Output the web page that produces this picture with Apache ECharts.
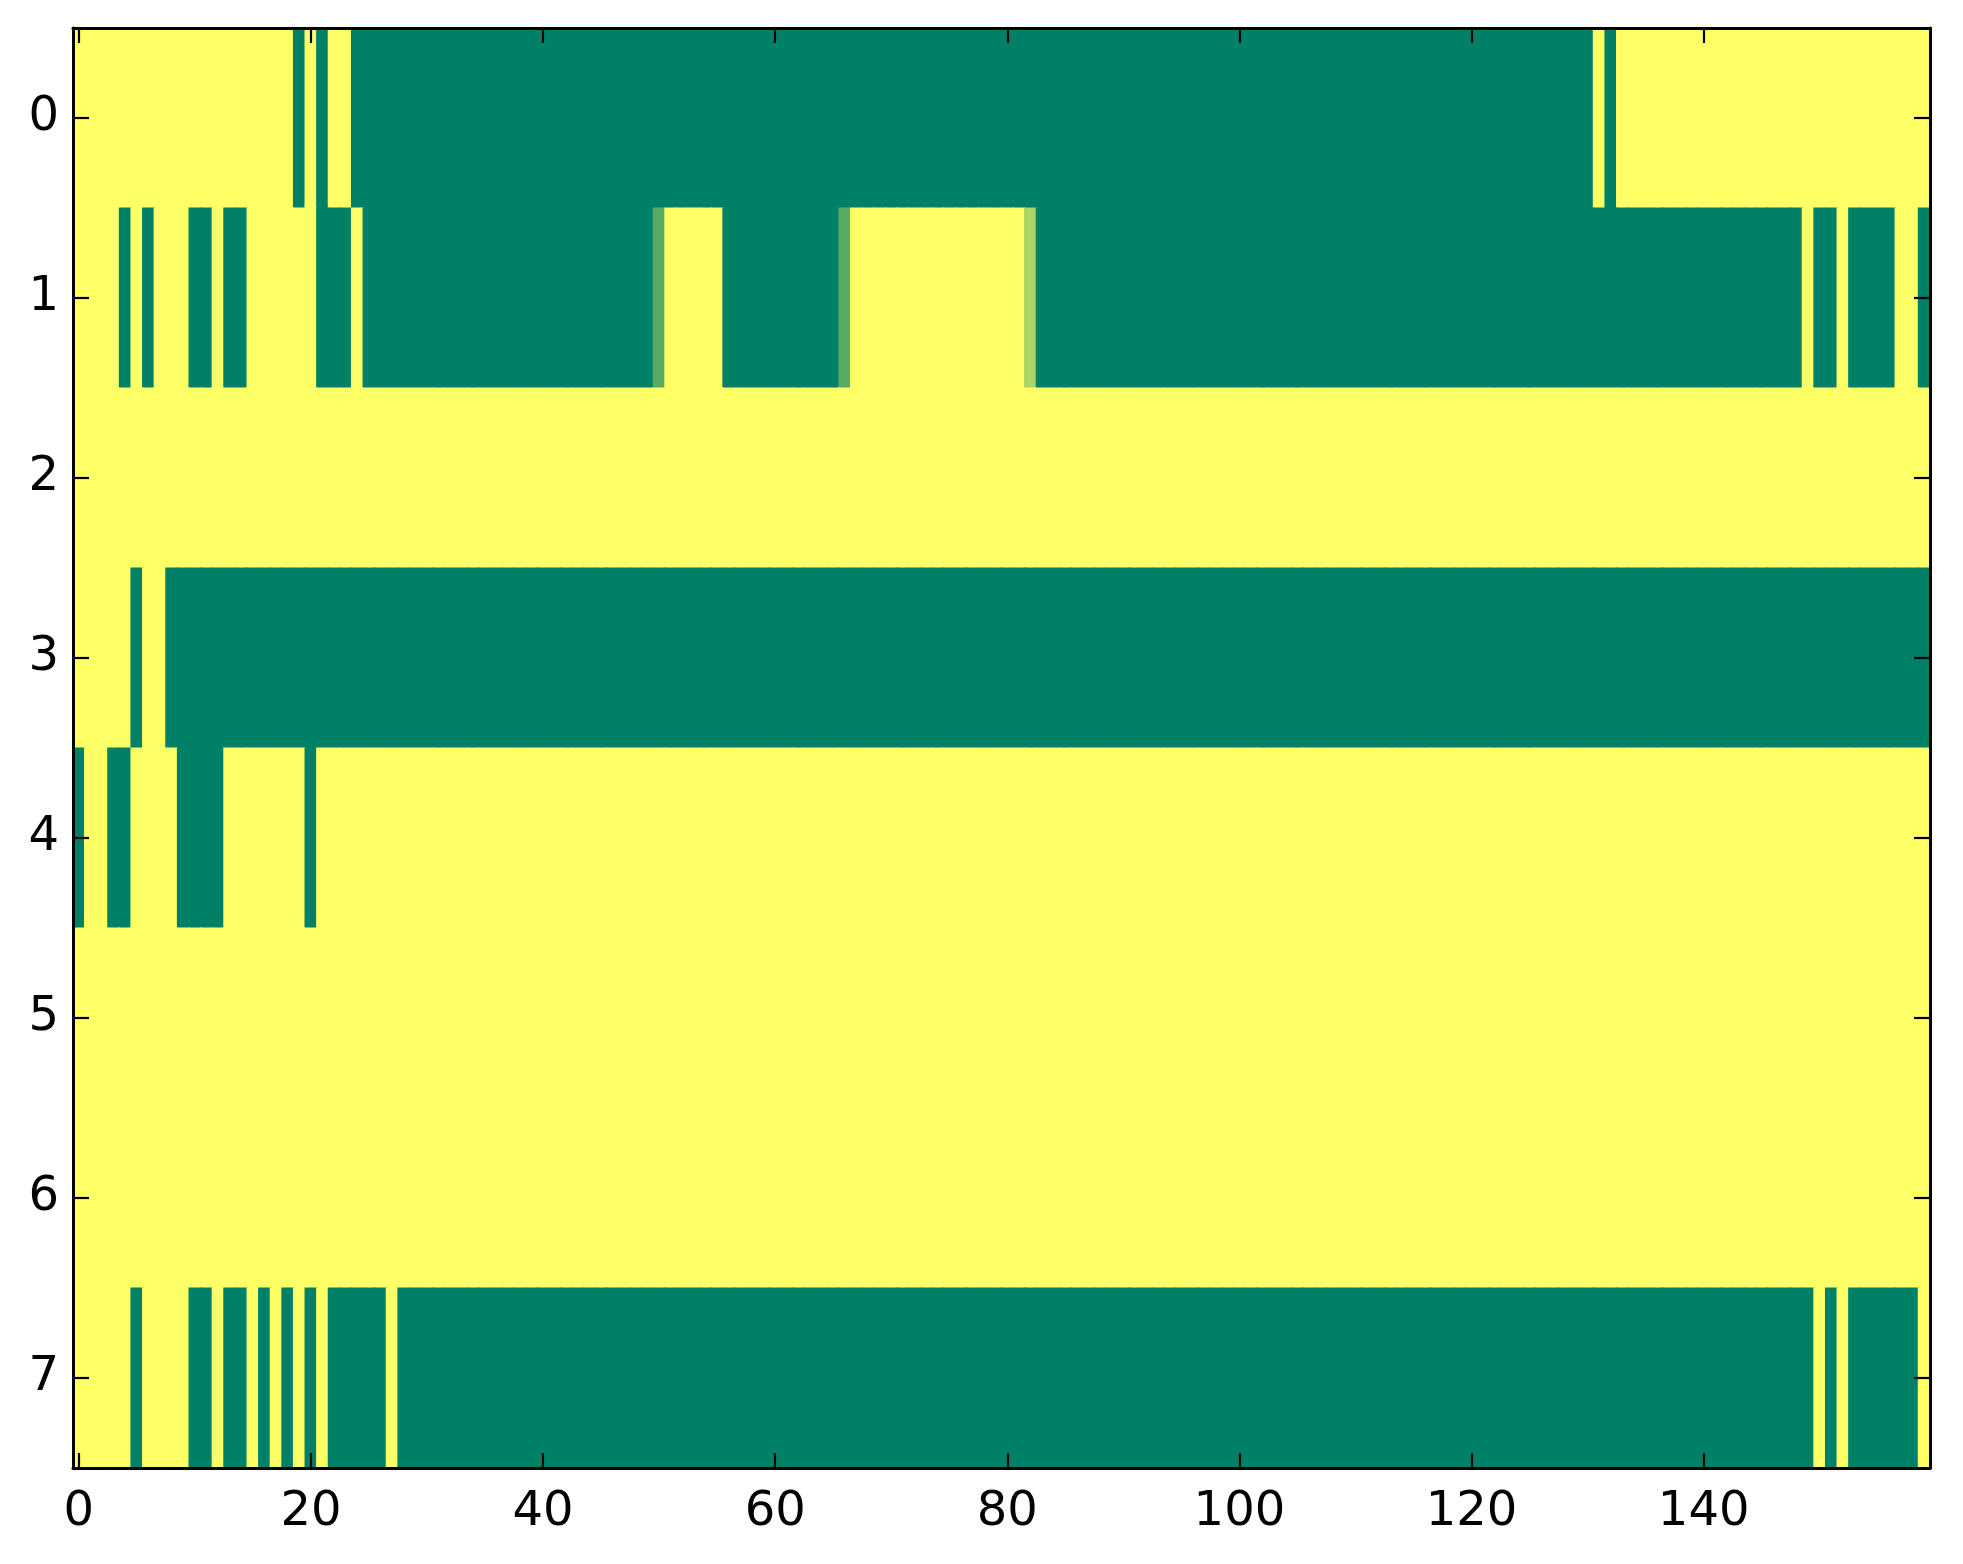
<!DOCTYPE html>
<html>
<head>
<meta charset="utf-8">
<script src="https://cdn.jsdelivr.net/npm/echarts@6/dist/echarts.min.js"></script>
<style>
html,body{margin:0;padding:0;background:#fff;}
#chart{width:1963px;height:1564px;}
</style>
</head>
<body>
<div id="chart"></div>
<script>
var xCategories = [];
for (var i = 0; i < 160; i++) { xCategories.push(String(i)); }
var yCategories = ['0','1','2','3','4','5','6','7'];

var row0 = [
1,1,1,1,1,1,1,1,1,1,1,1,1,1,1,1,1,1,1,0,
1,0,1,1,0,0,0,0,0,0,0,0,0,0,0,0,0,0,0,0,
0,0,0,0,0,0,0,0,0,0,0,0,0,0,0,0,0,0,0,0,
0,0,0,0,0,0,0,0,0,0,0,0,0,0,0,0,0,0,0,0,
0,0,0,0,0,0,0,0,0,0,0,0,0,0,0,0,0,0,0,0,
0,0,0,0,0,0,0,0,0,0,0,0,0,0,0,0,0,0,0,0,
0,0,0,0,0,0,0,0,0,0,0,1,0,1,1,1,1,1,1,1,
1,1,1,1,1,1,1,1,1,1,1,1,1,1,1,1,1,1,1,1
];
var row1 = [
1,1,1,1,0,1,0,1,1,1,0,0,1,0,0,1,1,1,1,1,
1,0,0,0,1,0,0,0,0,0,0,0,0,0,0,0,0,0,0,0,
0,0,0,0,0,0,0,0,0,0,0.333,1,1,1,1,1,0,0,0,0,
0,0,0,0,0,0,0.333,1,1,1,1,1,1,1,1,1,1,1,1,1,
1,1,0.667,0,0,0,0,0,0,0,0,0,0,0,0,0,0,0,0,0,
0,0,0,0,0,0,0,0,0,0,0,0,0,0,0,0,0,0,0,0,
0,0,0,0,0,0,0,0,0,0,0,0,0,0,0,0,0,0,0,0,
0,0,0,0,0,0,0,0,0,1,0,0,1,0,0,0,0,1,1,0
];
var row2 = [
1,1,1,1,1,1,1,1,1,1,1,1,1,1,1,1,1,1,1,1,
1,1,1,1,1,1,1,1,1,1,1,1,1,1,1,1,1,1,1,1,
1,1,1,1,1,1,1,1,1,1,1,1,1,1,1,1,1,1,1,1,
1,1,1,1,1,1,1,1,1,1,1,1,1,1,1,1,1,1,1,1,
1,1,1,1,1,1,1,1,1,1,1,1,1,1,1,1,1,1,1,1,
1,1,1,1,1,1,1,1,1,1,1,1,1,1,1,1,1,1,1,1,
1,1,1,1,1,1,1,1,1,1,1,1,1,1,1,1,1,1,1,1,
1,1,1,1,1,1,1,1,1,1,1,1,1,1,1,1,1,1,1,1
];
var row3 = [
1,1,1,1,1,0,1,1,0,0,0,0,0,0,0,0,0,0,0,0,
0,0,0,0,0,0,0,0,0,0,0,0,0,0,0,0,0,0,0,0,
0,0,0,0,0,0,0,0,0,0,0,0,0,0,0,0,0,0,0,0,
0,0,0,0,0,0,0,0,0,0,0,0,0,0,0,0,0,0,0,0,
0,0,0,0,0,0,0,0,0,0,0,0,0,0,0,0,0,0,0,0,
0,0,0,0,0,0,0,0,0,0,0,0,0,0,0,0,0,0,0,0,
0,0,0,0,0,0,0,0,0,0,0,0,0,0,0,0,0,0,0,0,
0,0,0,0,0,0,0,0,0,0,0,0,0,0,0,0,0,0,0,0
];
var row4 = [
0,1,1,0,0,1,1,1,1,0,0,0,0,1,1,1,1,1,1,1,
0,1,1,1,1,1,1,1,1,1,1,1,1,1,1,1,1,1,1,1,
1,1,1,1,1,1,1,1,1,1,1,1,1,1,1,1,1,1,1,1,
1,1,1,1,1,1,1,1,1,1,1,1,1,1,1,1,1,1,1,1,
1,1,1,1,1,1,1,1,1,1,1,1,1,1,1,1,1,1,1,1,
1,1,1,1,1,1,1,1,1,1,1,1,1,1,1,1,1,1,1,1,
1,1,1,1,1,1,1,1,1,1,1,1,1,1,1,1,1,1,1,1,
1,1,1,1,1,1,1,1,1,1,1,1,1,1,1,1,1,1,1,1
];
var row5 = [
1,1,1,1,1,1,1,1,1,1,1,1,1,1,1,1,1,1,1,1,
1,1,1,1,1,1,1,1,1,1,1,1,1,1,1,1,1,1,1,1,
1,1,1,1,1,1,1,1,1,1,1,1,1,1,1,1,1,1,1,1,
1,1,1,1,1,1,1,1,1,1,1,1,1,1,1,1,1,1,1,1,
1,1,1,1,1,1,1,1,1,1,1,1,1,1,1,1,1,1,1,1,
1,1,1,1,1,1,1,1,1,1,1,1,1,1,1,1,1,1,1,1,
1,1,1,1,1,1,1,1,1,1,1,1,1,1,1,1,1,1,1,1,
1,1,1,1,1,1,1,1,1,1,1,1,1,1,1,1,1,1,1,1
];
var row6 = [
1,1,1,1,1,1,1,1,1,1,1,1,1,1,1,1,1,1,1,1,
1,1,1,1,1,1,1,1,1,1,1,1,1,1,1,1,1,1,1,1,
1,1,1,1,1,1,1,1,1,1,1,1,1,1,1,1,1,1,1,1,
1,1,1,1,1,1,1,1,1,1,1,1,1,1,1,1,1,1,1,1,
1,1,1,1,1,1,1,1,1,1,1,1,1,1,1,1,1,1,1,1,
1,1,1,1,1,1,1,1,1,1,1,1,1,1,1,1,1,1,1,1,
1,1,1,1,1,1,1,1,1,1,1,1,1,1,1,1,1,1,1,1,
1,1,1,1,1,1,1,1,1,1,1,1,1,1,1,1,1,1,1,1
];
var row7 = [
1,1,1,1,1,0,1,1,1,1,0,0,1,0,0,1,0,1,0,1,
0,1,0,0,0,0,0,1,0,0,0,0,0,0,0,0,0,0,0,0,
0,0,0,0,0,0,0,0,0,0,0,0,0,0,0,0,0,0,0,0,
0,0,0,0,0,0,0,0,0,0,0,0,0,0,0,0,0,0,0,0,
0,0,0,0,0,0,0,0,0,0,0,0,0,0,0,0,0,0,0,0,
0,0,0,0,0,0,0,0,0,0,0,0,0,0,0,0,0,0,0,0,
0,0,0,0,0,0,0,0,0,0,0,0,0,0,0,0,0,0,0,0,
0,0,0,0,0,0,0,0,0,0,1,0,1,0,0,0,0,0,0,1
];

var rows = [row0, row1, row2, row3, row4, row5, row6, row7];
var data = [];
for (var r = 0; r < rows.length; r++) {
  for (var c = 0; c < rows[r].length; c++) {
    data.push([c, r, rows[r][c]]);
  }
}

var FONT = 'DejaVu Sans';
var lineStyle = { color: '#000', width: 3 };
var tickStyle = { color: '#000', width: 2.2 };

function renderCell(params, api) {
  var center = api.coord([api.value(0), api.value(1)]);
  var size = api.size([1, 1]);
  var w = size[0], h = size[1];
  // slight overlap removes anti-aliasing seams between neighbouring cells
  var shape = echarts.graphic.clipRectByRect({
    x: center[0] - w / 2 - 0.6,
    y: center[1] - h / 2 - 0.6,
    width: w + 1.2,
    height: h + 1.2
  }, {
    x: params.coordSys.x, y: params.coordSys.y,
    width: params.coordSys.width, height: params.coordSys.height
  });
  if (!shape) return null;
  return {
    type: 'rect',
    shape: shape,
    style: { fill: api.visual('color'), stroke: null }
  };
}

var chart = echarts.init(document.getElementById('chart'), null, { renderer: 'canvas' });
chart.setOption({
  backgroundColor: '#ffffff',
  animation: false,
  grid: { left: 73, top: 28, width: 1857, height: 1440, containLabel: false },
  xAxis: [
    {
      type: 'category', data: xCategories, position: 'bottom', z: 10,
      boundaryGap: true,
      axisLine: { show: true, onZero: false, lineStyle: lineStyle },
      axisTick: { show: true, inside: true, length: 15, interval: 19, alignWithLabel: true, lineStyle: tickStyle },
      axisLabel: { show: true, interval: 19, margin: 21, fontFamily: FONT, fontSize: 48, color: '#000' },
      splitLine: { show: false }
    },
    {
      type: 'category', data: xCategories, position: 'top', z: 10,
      boundaryGap: true,
      axisLine: { show: true, onZero: false, lineStyle: lineStyle },
      axisTick: { show: true, inside: true, length: 15, interval: 19, alignWithLabel: true, lineStyle: tickStyle },
      axisLabel: { show: false },
      splitLine: { show: false }
    }
  ],
  yAxis: [
    {
      type: 'category', data: yCategories, inverse: true, position: 'left', z: 10,
      boundaryGap: true,
      axisLine: { show: true, onZero: false, lineStyle: lineStyle },
      axisTick: { show: true, inside: true, length: 16, interval: 0, alignWithLabel: true, lineStyle: tickStyle },
      axisLabel: { show: true, interval: 0, margin: 14, fontFamily: FONT, fontSize: 48, color: '#000' },
      splitLine: { show: false }
    },
    {
      type: 'category', data: yCategories, inverse: true, position: 'right', z: 10,
      boundaryGap: true,
      axisLine: { show: true, onZero: false, lineStyle: lineStyle },
      axisTick: { show: true, inside: true, length: 16, interval: 0, alignWithLabel: true, lineStyle: tickStyle },
      axisLabel: { show: false },
      splitLine: { show: false }
    }
  ],
  visualMap: {
    show: false, type: 'continuous', min: 0, max: 1, dimension: 2,
    inRange: { color: ['#008066', '#ffff66'] }
  },
  series: [{
    type: 'custom',
    xAxisIndex: 0, yAxisIndex: 0,
    renderItem: renderCell,
    encode: { x: 0, y: 1 },
    data: data,
    silent: true
  }]
});
</script>
</body>
</html>
